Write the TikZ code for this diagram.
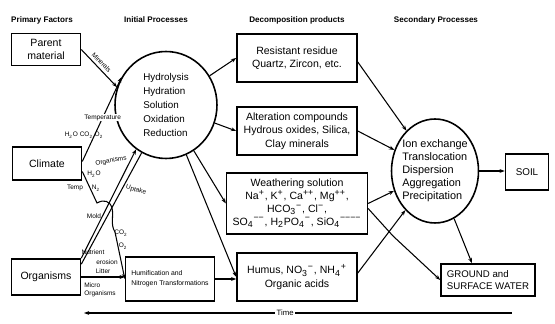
\documentclass[tikz,border=0pt]{standalone}
\usepackage{fontspec}
\setmainfont{Liberation Sans}
\usetikzlibrary{arrows,arrows.meta,calc,positioning,shapes.geometric}
\tikzstyle{heading} = [font=\fontsize{4.6}{5.5}\selectfont\bfseries, inner sep=1pt]
\tikzstyle{factor} = [rectangle, draw=black, line width=0.9pt, minimum width=1.38cm, minimum height=0.66cm, align=center, font=\fontsize{6}{7.4}\selectfont]
\tikzstyle{product} = [rectangle, draw=black, line width=0.9pt, minimum width=2.4cm, minimum height=0.96cm, align=center, font=\fontsize{6}{7.6}\selectfont]
\tikzstyle{process} = [ellipse, draw=black, line width=0.9pt, align=left, inner xsep=-6pt, inner ysep=-4pt]
\tikzstyle{lbl} = [font=\fontsize{3.7}{4.4}\selectfont, inner sep=0.4pt]
\tikzstyle{link} = [line width=0.6pt]
\tikzstyle{arrow} = [line width=0.6pt,-{Stealth[length=3pt,width=2.2pt]}]
\newcommand{\chg}[1]{\textsuperscript{#1}}
\newcommand{\idx}[1]{\textsubscript{#1}}

\begin{document}
\begin{tikzpicture}[x=0.02cm, y=-0.02cm]
\useasboundingbox (0,0) rectangle (555,324);

% headings
\node (hfac) [heading] at (42,20) {Primary Factors};
\node (hini) [heading] at (156,20) {Initial Processes};
\node (hdec) [heading] at (297,20) {Decomposition products};
\node (hsec) [heading] at (436,20) {Secondary Processes};

% primary factors
\node (parent) [factor, minimum height=0.62cm] at (46,49.5) {Parent\\material};
\node (climate) [factor] at (47,163.5) {Climate};
\node (organisms) [factor, minimum height=0.72cm] at (46,277) {Organisms};

% processes
\node (initial) [process, minimum width=2.04cm, minimum height=2.14cm, font=\fontsize{5.6}{7.9}\selectfont] at (166,105) {Hydrolysis\\Hydration\\Solution\\Oxidation\\Reduction};
\node (humif) [rectangle, draw=black, line width=0.9pt, minimum width=1.72cm, minimum height=0.88cm, align=left, font=\fontsize{3.9}{5.6}\selectfont] at (170,279) {Humification and\\Nitrogen Transformations};

% decomposition products
\node (resistant) [product] at (297,58) {Resistant residue\\Quartz, Zircon, etc.};
\node (alteration) [product] at (297,131) {Alteration compounds\\Hydrous oxides, Silica,\\Clay minerals};
\node (weathering) [product, minimum height=1.22cm, inner ysep=1pt, font={\fontsize{6}{7.3}\selectfont\lineskiplimit=-5pt}] at (297,203.5) {Weathering solution\\Na\chg{+}, K\chg{+}, Ca\chg{++}, Mg\chg{++},\\HCO\idx{3}\chg{−}, Cl\chg{−},\\SO\idx{4}\chg{−−}, H\idx{2}PO\idx{4}\chg{−}, SiO\idx{4}\chg{−−−−}};
\node (humus) [product] at (297,277) {Humus, NO\idx{3}\chg{−}, NH\idx{4}\chg{+}\\Organic acids};

% secondary processes and results
\node (secondary) [process, minimum width=1.74cm, minimum height=2.08cm, font=\fontsize{6.2}{7.4}\selectfont] at (435,171) {Ion exchange\\Translocation\\Dispersion\\Aggregation\\Precipitation};
\node (soil) [factor, minimum width=0.86cm, minimum height=0.72cm, font=\fontsize{5.6}{6.6}\selectfont] at (527,172) {SOIL};
\node (ground) [factor, minimum width=1.88cm, minimum height=0.64cm, align=left, font=\fontsize{5.5}{6.6}\selectfont] at (488,280) {GROUND and\\SURFACE WATER};

% factors to initial processes
\draw [arrow] (parent.east) -- node (lmin) [lbl, sloped, above=1.2pt, pos=0.45] {Minerals} (initial.160);
\draw [arrow] ($(climate.east)+(0,-2)$) -- node (ltemp) [lbl, fill=white, pos=0.52] {Temperature} (initial.148);
\node (lgas) [lbl] at (84,135) {H\idx{2}O CO\idx{2} O\idx{2}};
\draw [arrow] ($(climate.east)+(0,8)$) -- (97,203) .. controls (104,199) and (110,201) .. (112,208)
  .. controls (114,216) and (110,224) .. (115,232) -- (humif.west);
\node (ltmp) [lbl] at (75,188) {Temp};
\node (lho) [lbl] at (94,174) {H\idx{2}O};
\node (lnit) [lbl] at (96,188) {N\idx{2}};
\node (lmold) [lbl] at (94,216) {Mold};
\node (lco) [lbl] at (121,233) {CO\idx{2}};
\node (lox) [lbl] at (123,246) {O\idx{2}};
\draw [arrow] (organisms.north east) -- (initial.236);
\draw [link] ($(organisms.north east)+(0,6)$) -- (initial.243);
\node (lorg) [lbl, rotate=10] at (111,161) {Organisms};
\node (lupt) [lbl, rotate=-15] at (136,190) {Uptake};
\node (lnut) [lbl] at (93,252) {Nutrient};
\node (lero) [lbl] at (107,262) {erosion};
\draw [arrow] (organisms.east) -- node (llit) [lbl, above=1pt] {Litter} (organisms.east -| humif.west);
\node (lmic) [lbl, align=left] at (100,290) {Micro\\Organisms};

% initial processes to products
\draw [arrow] (initial) -- (resistant.west);
\draw [arrow] (initial) -- (alteration.west);
\draw [arrow] (initial) -- (weathering.west);
\draw [arrow] (initial) -- (humus.west);
\draw [arrow] (humif.east) -- (humif.east -| humus.west);

% products to secondary processes
\draw [arrow] ($(resistant.east)+(0,4)$) -- (secondary);
\draw [arrow] (alteration.east) -- (secondary);
\draw [arrow] (weathering.east) -- (secondary);
\draw [arrow] ($(weathering.east)+(0,5)$) -- (393,236) -- (ground.west);
\draw [arrow] ($(humus.east)+(0,-4)$) -- (secondary);
\draw [arrow] (secondary.east) -- (secondary.east -| soil.west);
\draw [arrow] (secondary) -- ($(ground.north)+(-16,0)$);

% time axis
\coordinate (tright) at (512,313);
\coordinate (tleft) at (84,313);
\draw [line width=0.6pt, {Stealth[length=3pt,width=2.2pt]}-] (tleft) -- node (ltime) [lbl, fill=white, pos=0.47, font=\fontsize{4.4}{5}\selectfont, inner sep=1pt] {Time} (tright);
\end{tikzpicture}
\end{document}
